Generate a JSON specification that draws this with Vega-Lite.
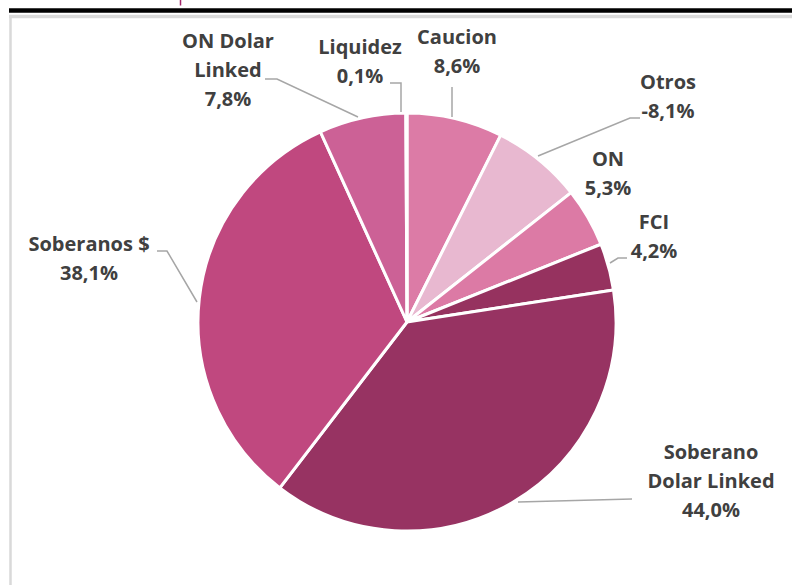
{
  "$schema": "https://vega.github.io/schema/vega-lite/v6.json",
  "width": 792,
  "height": 585,
  "padding": 0,
  "autosize": {"type": "none"},
  "background": "#ffffff",
  "config": {"view": {"stroke": null}},
  "datasets": {
    "slices": [
      {"name": "Caucion", "value": 8.6, "ord": 1},
      {"name": "Otros", "value": 8.1, "ord": 2},
      {"name": "ON", "value": 5.3, "ord": 3},
      {"name": "FCI", "value": 4.2, "ord": 4},
      {"name": "Soberano Dolar Linked", "value": 44.0, "ord": 5},
      {"name": "Soberanos $", "value": 38.1, "ord": 6},
      {"name": "ON Dolar Linked", "value": 7.8, "ord": 7},
      {"name": "Liquidez", "value": 0.1, "ord": 8}
    ],
    "labels": [
      {"text": "ON Dolar\nLinked\n7,8%", "x": -179, "y": 280},
      {"text": "Liquidez\n0,1%", "x": -47, "y": 274},
      {"text": "Caucion\n8,6%", "x": 50, "y": 284},
      {"text": "Otros\n-8,1%", "x": 261, "y": 239},
      {"text": "ON\n5,3%", "x": 201, "y": 162},
      {"text": "FCI\n4,2%", "x": 247, "y": 99},
      {"text": "Soberanos $\n38,1%", "x": -318, "y": 77},
      {"text": "Soberano\nDolar Linked\n44,0%", "x": 304, "y": -131}
    ],
    "leaders": [
      {"line": "ONDL", "seq": 1, "x": -142, "y": 243},
      {"line": "ONDL", "seq": 2, "x": -130, "y": 243},
      {"line": "ONDL", "seq": 3, "x": -49, "y": 205},
      {"line": "Liq", "seq": 1, "x": -17, "y": 239},
      {"line": "Liq", "seq": 2, "x": -6, "y": 239},
      {"line": "Liq", "seq": 3, "x": -6, "y": 210},
      {"line": "Cau", "seq": 1, "x": 45, "y": 235},
      {"line": "Cau", "seq": 2, "x": 45, "y": 205},
      {"line": "Otr", "seq": 1, "x": 233, "y": 204},
      {"line": "Otr", "seq": 2, "x": 223, "y": 204},
      {"line": "Otr", "seq": 3, "x": 131, "y": 166},
      {"line": "FCI", "seq": 1, "x": 220, "y": 64},
      {"line": "FCI", "seq": 2, "x": 211, "y": 64},
      {"line": "FCI", "seq": 3, "x": 203, "y": 59},
      {"line": "Sob", "seq": 1, "x": -250, "y": 71},
      {"line": "Sob", "seq": 2, "x": -240, "y": 71},
      {"line": "Sob", "seq": 3, "x": -210, "y": 20},
      {"line": "SDL", "seq": 1, "x": 225, "y": -177},
      {"line": "SDL", "seq": 2, "x": 111, "y": -180}
    ],
    "frame": [
      {"part": "black", "x": -398, "x2": 385, "y": 311.5, "y2": 311.5},
      {"part": "grayTop", "x": -398, "x2": 385, "y": 305.5, "y2": 305.5},
      {"part": "grayLeft", "x": -396.5, "x2": -396.5, "y": 305.5, "y2": -263},
      {"part": "title", "x": -226.5, "x2": -226.5, "y": 322, "y2": 316.5}
    ]
  },
  "layer": [
    {
      "data": {"name": "frame"},
      "mark": {"type": "rule", "clip": false},
      "encoding": {
        "x": {"field": "x", "type": "quantitative", "scale": {"domain": [-407, 385], "nice": false, "zero": false}, "axis": null},
        "x2": {"field": "x2"},
        "y": {"field": "y", "type": "quantitative", "scale": {"domain": [-263, 322], "nice": false, "zero": false}, "axis": null},
        "y2": {"field": "y2"},
        "color": {"field": "part", "type": "nominal", "scale": {"domain": ["black", "grayTop", "grayLeft", "title"], "range": ["#000000", "#d9d9d9", "#d9d9d9", "#a3266a"]}, "legend": null},
        "strokeWidth": {"field": "part", "type": "nominal", "scale": {"domain": ["black", "grayTop", "grayLeft", "title"], "range": [4.5, 1.5, 2, 5]}, "legend": null}
      }
    },
    {
      "data": {"name": "slices"},
      "mark": {"type": "arc", "outerRadius": 209, "stroke": "#ffffff", "strokeWidth": 3},
      "encoding": {
        "x": {"datum": 0, "type": "quantitative"},
        "y": {"datum": 0, "type": "quantitative"},
        "theta": {"field": "value", "type": "quantitative", "stack": true},
        "order": {"field": "ord", "type": "quantitative"},
        "fill": {"field": "name", "type": "nominal", "scale": {"domain": ["Caucion", "Otros", "ON", "FCI", "Soberano Dolar Linked", "Soberanos $", "ON Dolar Linked", "Liquidez"], "range": ["#dc7ba6", "#e8b8d0", "#dc7aa5", "#96325f", "#973362", "#c0487f", "#cc6196", "#dc7aa5"]}, "legend": null}
      }
    },
    {
      "data": {"name": "leaders"},
      "mark": {"type": "line", "stroke": "#a6a6a6", "strokeWidth": 1.5},
      "encoding": {
        "x": {"field": "x", "type": "quantitative"},
        "y": {"field": "y", "type": "quantitative"},
        "detail": {"field": "line"},
        "order": {"field": "seq", "type": "quantitative"}
      }
    },
    {
      "data": {"name": "labels"},
      "mark": {"type": "text", "font": "Open Sans", "fontWeight": "bold", "fontSize": 20, "fill": "#404040", "lineBreak": "\n", "lineHeight": 29, "align": "center", "baseline": "middle"},
      "encoding": {
        "x": {"field": "x", "type": "quantitative"},
        "y": {"field": "y", "type": "quantitative"},
        "text": {"field": "text"}
      }
    }
  ]
}
